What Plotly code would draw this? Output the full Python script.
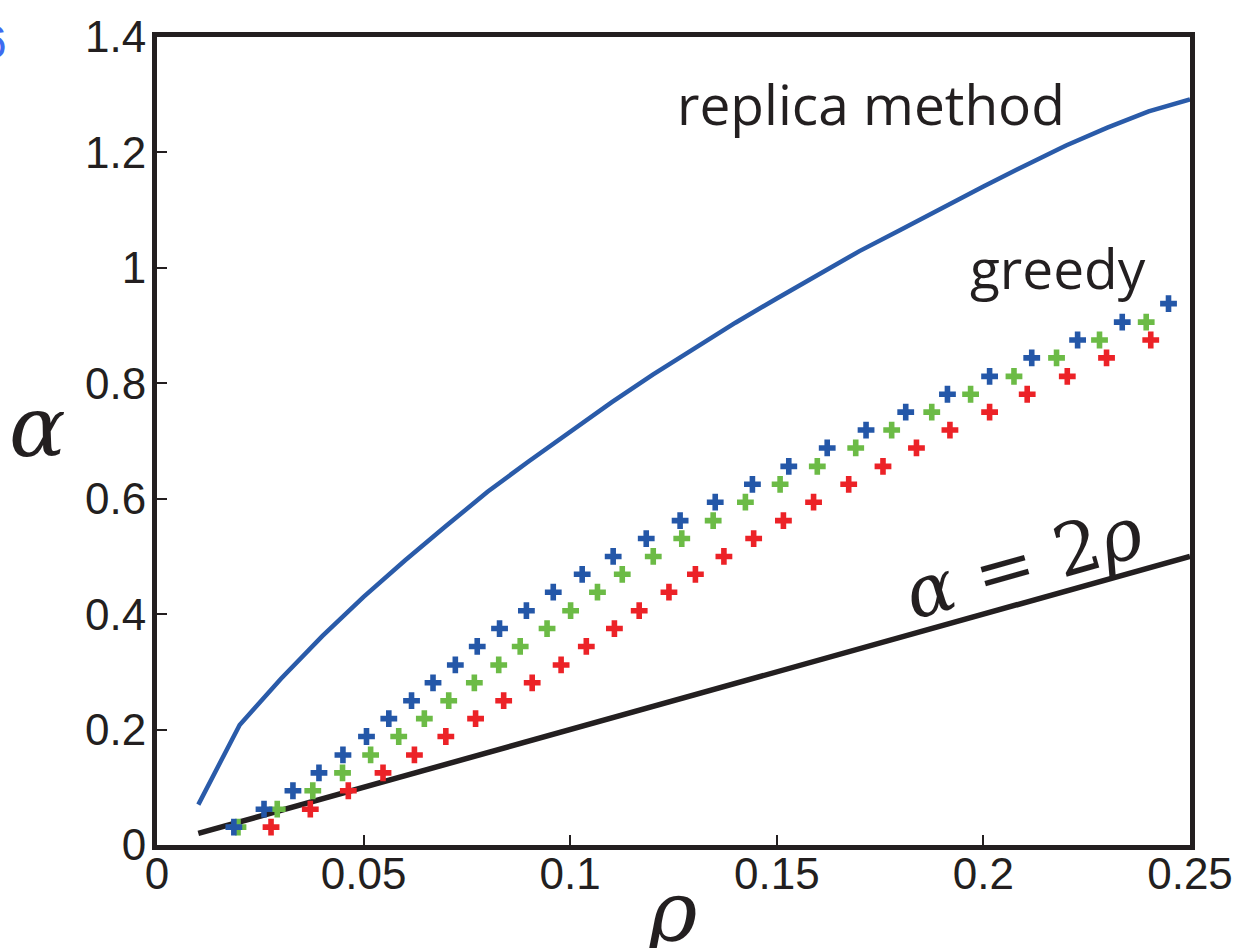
import plotly.graph_objects as go

# replica method curve
rho_replica = [0.01, 0.02, 0.03, 0.04, 0.05, 0.06, 0.07, 0.08, 0.09, 0.10, 0.11, 0.12, 0.13,
               0.14, 0.15, 0.16, 0.17, 0.18, 0.19, 0.20, 0.21, 0.22, 0.23, 0.24, 0.25]
alpha_replica = [0.070, 0.208, 0.288, 0.362, 0.430, 0.493, 0.553, 0.612, 0.665, 0.717, 0.767,
                 0.815, 0.861, 0.905, 0.947, 0.987, 1.029, 1.066, 1.104, 1.141, 1.177, 1.212,
                 1.243, 1.271, 1.292]

# alpha = 2 rho line
rho_bound = [0.01, 0.25]
alpha_bound = [0.02, 0.50]

# greedy results (three series)
alpha_blue = [0.031, 0.062, 0.094, 0.125, 0.156, 0.188, 0.219, 0.250, 0.281, 0.312, 0.344, 0.375,
              0.406, 0.438, 0.469, 0.500, 0.531, 0.562, 0.594, 0.625, 0.656, 0.688, 0.719, 0.750,
              0.781, 0.812, 0.844, 0.875, 0.906, 0.938]
rho_blue = [0.0186, 0.0259, 0.0329, 0.0392, 0.0450, 0.0507, 0.0561, 0.0616, 0.0668, 0.0722,
            0.0775, 0.0829, 0.0894, 0.0959, 0.1029, 0.1104, 0.1184, 0.1266, 0.1351, 0.1441,
            0.1529, 0.1622, 0.1716, 0.1812, 0.1913, 0.2015, 0.2117, 0.2228, 0.2336, 0.2448]

alpha_green = alpha_blue[:29]
rho_green = [0.0196, 0.0291, 0.0377, 0.0449, 0.0517, 0.0585, 0.0647, 0.0706, 0.0768, 0.0827,
             0.0879, 0.0944, 0.1001, 0.1066, 0.1126, 0.1201, 0.1270, 0.1346, 0.1424, 0.1508,
             0.1598, 0.1691, 0.1778, 0.1875, 0.1969, 0.2074, 0.2177, 0.2281, 0.2394]

alpha_red = alpha_blue[:28]
rho_red = [0.0276, 0.0371, 0.0463, 0.0547, 0.0623, 0.0699, 0.0771, 0.0839, 0.0908, 0.0978,
           0.1039, 0.1107, 0.1167, 0.1239, 0.1303, 0.1372, 0.1444, 0.1516, 0.1589, 0.1674,
           0.1757, 0.1838, 0.1919, 0.2015, 0.2106, 0.2203, 0.2298, 0.2405]

x_ticks = [0, 0.05, 0.1, 0.15, 0.2, 0.25]
x_ticklabels = ["0", "0.05", "0.1", "0.15", "0.2", "0.25"]
y_ticks = [0, 0.2, 0.4, 0.6, 0.8, 1.0, 1.2, 1.4]
y_ticklabels = ["0", "0.2", "0.4", "0.6", "0.8", "1", "1.2", "1.4"]

BLUE = "#2457a8"
GREEN = "#6cbb46"
RED = "#ec2227"
BLACK = "#231f20"

fig = go.Figure()
fig.add_trace(go.Scatter(x=rho_bound, y=alpha_bound, mode="lines",
                         line=dict(color=BLACK, width=5.5), showlegend=False))
fig.add_trace(go.Scatter(x=rho_replica, y=alpha_replica, mode="lines",
                         line=dict(color="#2a5ba9", width=4.5), showlegend=False))
for xs, ys, c in [(rho_red, alpha_red, RED), (rho_green, alpha_green, GREEN),
                  (rho_blue, alpha_blue, BLUE)]:
    fig.add_trace(go.Scatter(x=xs, y=ys, mode="markers",
                             marker=dict(symbol="cross", size=14, color=c, line=dict(width=0)),
                             showlegend=False))

W, H = 1253, 948
L, R, T, B = 157, 63, 30, 103
pw, ph = W - L - R, H - T - B


def px(x):
    return (x - L) / pw


def py(y):
    return (H - B - y) / ph


serif = "DejaVu Serif"
sans = "Open Sans"
ann = []
ann.append(dict(x=px(871), y=py(97), xref="paper", yref="paper", text="replica method",
                showarrow=False, font=dict(family=sans, size=55, color=BLACK),
                xanchor="center", yanchor="middle"))
ann.append(dict(x=px(1058), y=py(263), xref="paper", yref="paper", text="greedy",
                showarrow=False, font=dict(family=sans, size=55, color=BLACK),
                xanchor="center", yanchor="middle"))
ann.append(dict(x=px(1023), y=py(561), xref="paper", yref="paper",
                text="<i>α</i> = 2<i>ρ</i>", textangle=-15.7,
                showarrow=False, font=dict(family=serif, size=72, color=BLACK),
                xanchor="center", yanchor="middle"))
ann.append(dict(x=px(37), y=py(423), xref="paper", yref="paper", text="<i>α</i>",
                showarrow=False, font=dict(family=serif, size=84, color=BLACK),
                xanchor="center", yanchor="middle"))
ann.append(dict(x=px(672), y=py(912), xref="paper", yref="paper", text="<i>ρ</i>",
                showarrow=False, font=dict(family=serif, size=84, color=BLACK),
                xanchor="center", yanchor="middle"))
ann.append(dict(x=px(9), y=py(35), xref="paper", yref="paper", text="6",
                showarrow=False, font=dict(family="Liberation Sans", size=46, color="#3d6cf0"),
                xanchor="right", yanchor="middle"))

fig.update_layout(
    width=W, height=H,
    margin=dict(l=L, r=R, t=T, b=B, pad=0),
    paper_bgcolor="white", plot_bgcolor="white",
    annotations=ann,
    xaxis=dict(range=[0, 0.25], tickvals=x_ticks, ticktext=x_ticklabels,
               showgrid=False, zeroline=False, showline=True, linecolor=BLACK, linewidth=5,
               mirror=True, ticks="inside", ticklen=10, tickwidth=1.5, tickcolor=BLACK,
               ticklabelstandoff=-14,
               tickfont=dict(family="Liberation Sans", size=44, color=BLACK)),
    yaxis=dict(range=[0, 1.4], tickvals=y_ticks, ticktext=y_ticklabels,
               showgrid=False, zeroline=False, showline=True, linecolor=BLACK, linewidth=5,
               mirror=True, ticks="inside", ticklen=10, tickwidth=1.5, tickcolor=BLACK,
               ticklabelstandoff=-3,
               tickfont=dict(family="Liberation Sans", size=44, color=BLACK)),
)

fig.write_html("out.html", config={"displayModeBar": False},
               post_script="document.body.style.margin='0';")
